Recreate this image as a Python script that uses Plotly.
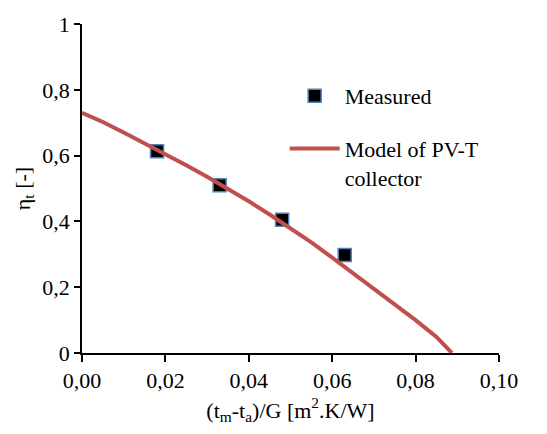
import plotly.graph_objects as go

measured_x = [0.018, 0.033, 0.048, 0.063]
measured_y = [0.613, 0.51, 0.405, 0.298]

model_x = [0.0, 0.005, 0.01, 0.015, 0.02, 0.025, 0.03, 0.035, 0.04, 0.045, 0.05,
           0.055, 0.06, 0.065, 0.07, 0.075, 0.08, 0.085, 0.0887]
model_y = [0.73, 0.702, 0.67, 0.638, 0.605, 0.571, 0.536, 0.499, 0.461, 0.421, 0.38,
           0.336, 0.29, 0.243, 0.196, 0.148, 0.1, 0.049, 0.0]

font = "Times New Roman"
fs = 22

fig = go.Figure()
fig.add_trace(go.Scatter(
    x=measured_x, y=measured_y, mode="markers", name="Measured", legendgroup="a",
    marker=dict(symbol="square", size=13, color="black",
                line=dict(color="#4F81BD", width=1.5)),
))
fig.add_trace(go.Scatter(
    x=model_x, y=model_y, mode="lines", name="Model of PV-T<br>collector", legendgroup="b",
    line=dict(color="#C0504D", width=4),
))

fig.update_layout(
    width=547, height=434,
    margin=dict(l=82, r=48, t=20, b=81),
    paper_bgcolor="white", plot_bgcolor="white",
    separators=", ",
    font=dict(family=font, size=fs, color="black"),
    legend=dict(x=0.486, y=0.845, xanchor="left", yanchor="top",
                bgcolor="rgba(0,0,0,0)", font=dict(size=fs, family=font),
                tracegroupgap=21, itemwidth=50, valign="top"),
    xaxis=dict(range=[0, 0.1], dtick=0.02, tickformat=".2f",
               showline=True, linecolor="black", linewidth=1.5,
               ticks="outside", ticklen=7, tickcolor="black", tickwidth=1.5,
               showgrid=False, zeroline=False,
               tickfont=dict(family=font, size=fs),
               title=dict(text="(t<sub>m</sub>-t<sub>a</sub>)/G [m<sup>2</sup>.K/W]",
                          font=dict(size=fs, family=font), standoff=10)),
    yaxis=dict(range=[0, 1], dtick=0.2,
               showline=True, linecolor="black", linewidth=1.5,
               ticks="outside", ticklen=6, tickcolor="black", tickwidth=1.5,
               showgrid=False, zeroline=False,
               tickfont=dict(family=font, size=fs),
               title=dict(text="η<sub>t</sub> [-]", font=dict(size=fs, family=font), standoff=6)),
)

fig.write_html("out.html")
